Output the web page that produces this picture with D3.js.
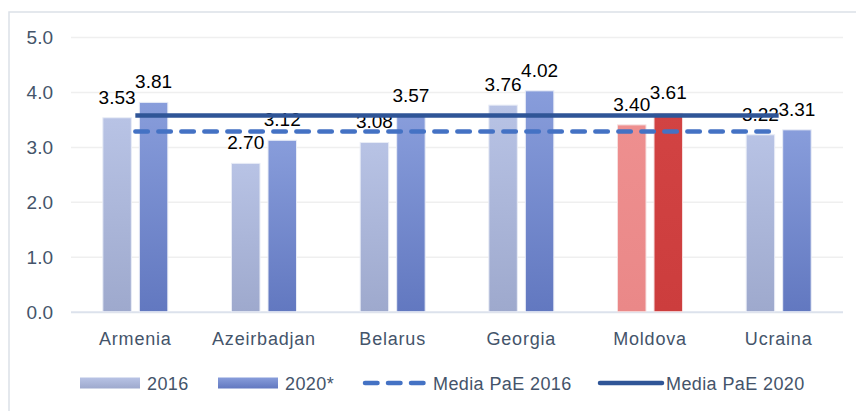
<!DOCTYPE html>
<html>
<head>
<meta charset="utf-8">
<style>
  body { margin: 0; background: #fff; }
  svg { display: block; }
  text { font-family: "Liberation Sans", Arial, sans-serif; }
  .tick text { fill: #44546a; font-size: 19px; }
  .cat { fill: #44546a; font-size: 18px; letter-spacing: 0.8px; }
  .lab { fill: #000; font-size: 19px; }
  .leg { fill: #44546a; font-size: 18px; letter-spacing: 0.4px; }
</style>
</head>
<body>
<script src="https://cdn.jsdelivr.net/npm/d3@7"></script>
<script>

var countries = ["Armenia", "Azeirbadjan", "Belarus", "Georgia", "Moldova", "Ucraina"];
var values2016 = [3.53, 2.70, 3.08, 3.76, 3.40, 3.22];
var values2020 = [3.81, 3.12, 3.57, 4.02, 3.61, 3.31];
var yTicks = [0, 1, 2, 3, 4, 5];
var seriesNames = ["2016", "2020*"];
var mean2016 = 3.28, mean2020 = 3.57;
var highlight = "Moldova";

var width = 856, height = 411;

var svg = d3.select("body").append("svg")
    .attr("width", width)
    .attr("height", height);

// gradients for the bars
var defs = svg.append("defs");
function grad(id, top, bottom) {
  var g = defs.append("linearGradient").attr("id", id)
      .attr("x1", 0).attr("y1", 0).attr("x2", 0).attr("y2", 1);
  g.append("stop").attr("offset", "0%").attr("stop-color", top);
  g.append("stop").attr("offset", "100%").attr("stop-color", bottom);
}
grad("g2016", "#b8c3e5", "#9ea9cd");
grad("g2020", "#889ddb", "#6278c0");
grad("g2016r", "#ee8f8f", "#ea8888");
grad("g2020r", "#d24343", "#cc3d3d");

// chart frame
svg.append("rect")
    .attr("x", 9).attr("y", 12)
    .attr("width", 870).attr("height", 430)
    .attr("fill", "none")
    .attr("stroke", "#dce1e8")
    .attr("stroke-width", 1.5);

var x0 = d3.scaleBand()
    .domain(countries)
    .range([71, 843])
    .paddingInner(0.495)
    .paddingOuter(0.2475);

var x1 = d3.scaleBand()
    .domain(seriesNames)
    .range([0, x0.bandwidth()])
    .paddingInner(0.22);

var y = d3.scaleLinear()
    .domain([0, 5])
    .range([311.7, 37]);

// gridlines + y labels
var yAxis = svg.append("g")
    .attr("transform", "translate(71,0)")
    .call(d3.axisLeft(y).tickValues(yTicks).tickFormat(d3.format(".1f"))
      .tickSize(-(843 - 71)).tickPadding(18));
yAxis.select(".domain").remove();
yAxis.selectAll(".tick line")
    .attr("stroke", function(d) { return d === 0 ? "#dce2ec" : "#efefef"; })
    .attr("stroke-width", function(d) { return d === 0 ? 2 : 1.5; });
yAxis.selectAll(".tick text").attr("dy", "0.36em");

// bars
var rows = countries.map(function(c, i) {
  return { country: c, vals: [values2016[i], values2020[i]] };
});

var groups = svg.selectAll(".grp")
    .data(rows)
    .enter().append("g")
    .attr("class", "grp")
    .attr("transform", function(d) { return "translate(" + x0(d.country) + ",0)"; });

groups.selectAll("rect")
    .data(function(d) {
      return d.vals.map(function(v, j) { return { s: seriesNames[j], j: j, v: v, c: d.country }; });
    })
    .enter().append("rect")
    .attr("x", function(d) { return x1(d.s); })
    .attr("y", function(d) { return y(d.v); })
    .attr("width", x1.bandwidth())
    .attr("height", function(d) { return y(0) - y(d.v); })
    .attr("fill", function(d) {
      var id = d.j === 0 ? "g2016" : "g2020";
      if (d.c === highlight) id += "r";
      return "url(#" + id + ")";
    })
    .attr("stroke", function(d) { return d.c === highlight ? "#f6dede" : "#e8ecf6"; })
    .attr("stroke-width", 1);

// mean lines
var xa = x0(countries[0]) + x0.bandwidth() / 2;
var xb = x0(countries[countries.length - 1]) + x0.bandwidth() / 2;

svg.append("line")
    .attr("x1", xa).attr("x2", xb - 6)
    .attr("y1", y(mean2016)).attr("y2", y(mean2016))
    .attr("stroke", "#4472c4")
    .attr("stroke-width", 4.5)
    .attr("stroke-linecap", "round")
    .attr("stroke-dasharray", "12.5,10.5");

svg.append("line")
    .attr("x1", xa).attr("x2", xb)
    .attr("y1", y(mean2020)).attr("y2", y(mean2020))
    .attr("stroke", "#2f5597")
    .attr("stroke-width", 4.5);

// data labels
groups.selectAll(".lab")
    .data(function(d) {
      return d.vals.map(function(v, j) { return { s: seriesNames[j], v: v }; });
    })
    .enter().append("text")
    .attr("class", "lab")
    .attr("text-anchor", "middle")
    .attr("x", function(d) { return x1(d.s) + x1.bandwidth() / 2; })
    .attr("y", function(d) { return y(d.v) - 14; })
    .text(function(d) { return d.v.toFixed(2); });

// category labels
svg.selectAll(".cat")
    .data(countries)
    .enter().append("text")
    .attr("class", "cat")
    .attr("text-anchor", "middle")
    .attr("x", function(d) { return x0(d) + x0.bandwidth() / 2; })
    .attr("y", 345)
    .text(function(d) { return d; });

// legend
var ly = 383;
var legend = svg.append("g");

legend.append("rect").attr("x", 80).attr("y", ly - 5.5).attr("width", 60).attr("height", 11)
    .attr("fill", "url(#g2016)");
legend.append("text").attr("class", "leg").attr("x", 147).attr("y", ly + 7).text(seriesNames[0]);

legend.append("rect").attr("x", 218).attr("y", ly - 5.5).attr("width", 60).attr("height", 11)
    .attr("fill", "url(#g2020)");
legend.append("text").attr("class", "leg").attr("x", 285).attr("y", ly + 7).text(seriesNames[1]);

legend.append("line").attr("x1", 365).attr("x2", 428).attr("y1", ly).attr("y2", ly)
    .attr("stroke", "#4472c4").attr("stroke-width", 4.5)
    .attr("stroke-linecap", "round").attr("stroke-dasharray", "12.5,10.5");
legend.append("text").attr("class", "leg").attr("x", 433).attr("y", ly + 7).text("Media PaE 2016");

legend.append("line").attr("x1", 600).attr("x2", 662).attr("y1", ly).attr("y2", ly)
    .attr("stroke", "#2f5597").attr("stroke-width", 4.5)
    .attr("stroke-linecap", "round");
legend.append("text").attr("class", "leg").attr("x", 666).attr("y", ly + 7).text("Media PaE 2020");

</script>
</body>
</html>
